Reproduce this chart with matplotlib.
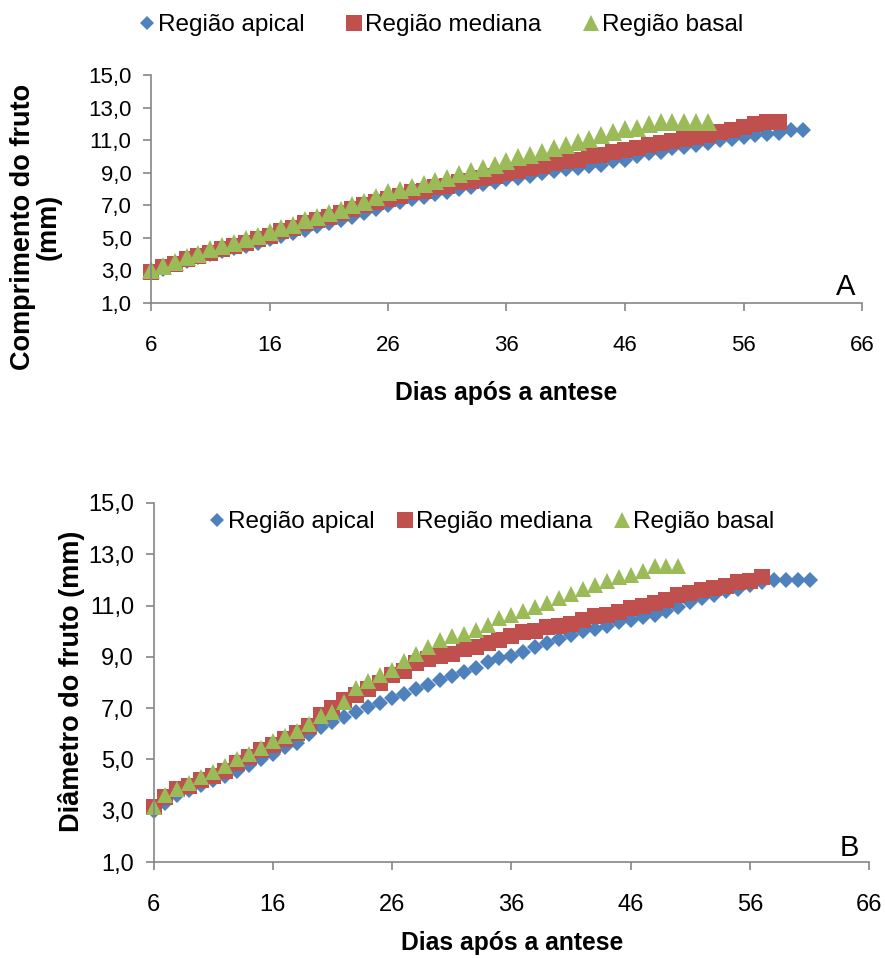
import matplotlib
matplotlib.use("Agg")
import matplotlib.pyplot as plt
from matplotlib.ticker import FuncFormatter

plt.rcParams['font.family'] = ['Liberation Sans', 'DejaVu Sans']

# ---- data (one reading per day after anthesis) ----
series_names = ["Região apical", "Região mediana", "Região basal"]

# A: fruit length (mm)
comp_apical = [2.9, 3.1, 3.4, 3.6, 3.8, 4.0, 4.2, 4.4, 4.5, 4.7,
               4.9, 5.1, 5.3, 5.5, 5.7, 5.9, 6.1, 6.3, 6.5, 6.8,
               7.0, 7.2, 7.4, 7.5, 7.7, 7.8, 8.0, 8.1, 8.3, 8.4,
               8.6, 8.7, 8.8, 9.0, 9.1, 9.2, 9.3, 9.4, 9.5, 9.7,
               9.8, 10.0, 10.2, 10.3, 10.5, 10.6, 10.7, 10.8, 11.0, 11.1,
               11.2, 11.3, 11.35, 11.45, 11.6, 11.6]
comp_mediana = [2.9, 3.2, 3.4, 3.7, 3.9, 4.1, 4.3, 4.5, 4.7, 4.9,
                5.1, 5.4, 5.6, 5.9, 6.1, 6.3, 6.5, 6.8, 7.0, 7.2,
                7.4, 7.6, 7.8, 7.9, 8.1, 8.2, 8.4, 8.5, 8.7, 8.8,
                9.0, 9.1, 9.3, 9.4, 9.6, 9.7, 9.8, 10.0, 10.1, 10.3,
                10.4, 10.5, 10.7, 10.8, 10.95, 11.1, 11.2, 11.3, 11.5, 11.6,
                11.8, 12.0, 12.1, 12.1]
comp_basal = [3.0, 3.3, 3.5, 3.8, 4.0, 4.3, 4.5, 4.7, 4.9, 5.1,
              5.35, 5.6, 5.8, 6.1, 6.3, 6.5, 6.7, 7.0, 7.2, 7.5,
              7.8, 7.95, 8.1, 8.3, 8.5, 8.7, 8.9, 9.1, 9.3, 9.5,
              9.7, 9.95, 10.1, 10.3, 10.5, 10.7, 10.9, 11.1, 11.3, 11.5,
              11.7, 11.75, 12.0, 12.1, 12.1, 12.1, 12.1, 12.1]

# B: fruit diameter (mm)
diam_apical = [3.0, 3.3, 3.6, 3.8, 4.0, 4.2, 4.35, 4.55, 4.8, 5.0,
               5.2, 5.5, 5.65, 6.0, 6.25, 6.45, 6.65, 6.85, 7.05, 7.2,
               7.4, 7.55, 7.75, 7.9, 8.1, 8.25, 8.4, 8.55, 8.8, 8.95,
               9.05, 9.2, 9.4, 9.55, 9.7, 9.85, 10.0, 10.1, 10.2, 10.35,
               10.45, 10.55, 10.65, 10.8, 10.95, 11.15, 11.3, 11.4, 11.55, 11.65,
               11.8, 11.9, 12.0, 12.0, 12.0, 12.0]
diam_mediana = [3.15, 3.55, 3.85, 3.95, 4.2, 4.35, 4.55, 4.85, 5.1, 5.35,
                5.55, 5.8, 6.05, 6.3, 6.75, 7.0, 7.3, 7.5, 7.75, 8.0,
                8.3, 8.45, 8.75, 8.9, 9.05, 9.1, 9.3, 9.4, 9.55, 9.65,
                9.8, 9.95, 10.0, 10.15, 10.2, 10.3, 10.45, 10.6, 10.65, 10.75,
                10.9, 11.0, 11.1, 11.2, 11.4, 11.5, 11.6, 11.7, 11.75, 11.9,
                11.95, 12.1]
diam_basal = [3.15, 3.6, 3.85, 4.1, 4.3, 4.5, 4.75, 5.0, 5.2, 5.45,
              5.7, 5.9, 6.1, 6.4, 6.7, 6.85, 7.25, 7.8, 8.05, 8.3,
              8.5, 8.85, 9.1, 9.4, 9.65, 9.8, 9.9, 10.05, 10.25, 10.5,
              10.65, 10.8, 10.95, 11.1, 11.3, 11.45, 11.65, 11.8, 11.95, 12.1,
              12.2, 12.35, 12.55, 12.55, 12.55]

first_day = 6
x_ticks = [6, 16, 26, 36, 46, 56, 66]
y_ticks = [1, 3, 5, 7, 9, 11, 13, 15]

colors = ["#4F81BD", "#C0504D", "#9BBB59"]
markers = ["D", "s", "^"]
axis_gray = "#868686"


def days(values):
    return list(range(first_day, first_day + len(values)))


def px(x, y):
    # pixel position -> figure fraction
    return x / 885, 1 - y / 958


def style_axes(ax, tick_size):
    ax.set_xlim(6, 66)
    ax.set_ylim(1, 15)
    ax.set_xticks(x_ticks)
    ax.set_yticks(y_ticks)
    ax.yaxis.set_major_formatter(FuncFormatter(lambda v, p: f"{v:.1f}".replace(".", ",")))
    for side in ["top", "right"]:
        ax.spines[side].set_visible(False)
    for side in ["left", "bottom"]:
        ax.spines[side].set_color(axis_gray)
        ax.spines[side].set_linewidth(1.2)
    ax.tick_params(axis="both", colors=axis_gray, labelcolor="black",
                   length=6, width=1.2, labelsize=tick_size, direction="out")
    ax.tick_params(axis="x", pad=17)
    ax.tick_params(axis="y", pad=8)


fig = plt.figure(figsize=(8.85, 9.58), dpi=100)

# ---- panel A ----
ax1 = fig.add_axes([151 / 885, 1 - 303 / 958, 711 / 885, 228 / 958])
top_series = [comp_apical, comp_mediana, comp_basal]
sizes_a = [7.8, 11.8, 12.3]
handles = []
for vals, name, c, m, ms in zip(top_series, series_names, colors, markers, sizes_a):
    h, = ax1.plot(days(vals), vals, linestyle="none", marker=m, markersize=ms,
                  color=c, markeredgewidth=0, label=name, clip_on=False)
    handles.append(h)
style_axes(ax1, 16)
fig.legend(handles=handles, loc="center", bbox_to_anchor=px(441, 25), ncol=3,
           frameon=False, fontsize=17.5, handlelength=0.7, handletextpad=0.1,
           columnspacing=1.7, markerscale=0.95)
ax1.text(0.99, 0.07, "A", transform=ax1.transAxes, fontsize=21, ha="right", va="center")
fig.text(*px(36, 227), "Comprimento do fruto\n(mm)", rotation=90, ha="center",
         va="center", fontsize=19.5, fontweight="bold", linespacing=1.0)
fig.text(*px(506, 393), "Dias após a antese", ha="center", va="center",
         fontsize=17.7, fontweight="bold")

# ---- panel B ----
ax2 = fig.add_axes([153.5 / 885, 1 - 862 / 958, 715.8 / 885, 359 / 958])
bottom_series = [diam_apical, diam_mediana, diam_basal]
sizes_b = [7.8, 11.5, 11.5]
handles = []
for vals, name, c, m, ms in zip(bottom_series, series_names, colors, markers, sizes_b):
    h, = ax2.plot(days(vals), vals, linestyle="none", marker=m, markersize=ms,
                  color=c, markeredgewidth=0, label=name, clip_on=False)
    handles.append(h)
style_axes(ax2, 17)
ax2.legend(handles=handles, loc="center", bbox_to_anchor=(0.472, 0.947), ncol=3,
           frameon=False, fontsize=17.5, handlelength=0.7, handletextpad=0.1,
           columnspacing=0.9, markerscale=0.95, borderaxespad=0)
ax2.text(0.985, 0.04, "B", transform=ax2.transAxes, fontsize=21, ha="right", va="center")
fig.text(*px(72, 681), "Diâmetro do fruto (mm)", rotation=90, ha="center",
         va="center", fontsize=19.5, fontweight="bold")
fig.text(*px(512, 943), "Dias após a antese", ha="center", va="center",
         fontsize=17.7, fontweight="bold")

fig.savefig("out.png", dpi=100)
